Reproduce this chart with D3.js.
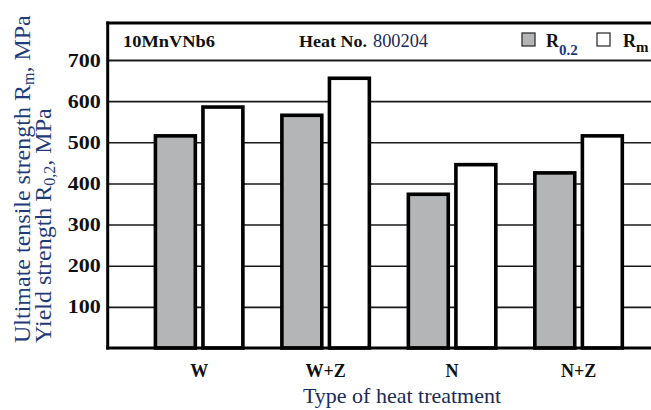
<!DOCTYPE html>
<html>
<head>
<meta charset="utf-8">
<script src="https://cdn.jsdelivr.net/npm/d3@7"></script>
<style>
  html, body { margin: 0; padding: 0; background: #fff; }
  svg { display: block; }
  text { font-family: "Liberation Serif", "Times New Roman", serif; }
</style>
</head>
<body>
<div id="chart"></div>
<script>
// ---- data ----
const categories = ["W", "W+Z", "N", "N+Z"];
const seriesKeys = ["r02", "rm"];
const r02Values = [520, 570, 378, 430];   // Yield strength R0.2, MPa
const rmValues  = [590, 660, 450, 520];   // Ultimate tensile strength Rm, MPa
const yTickValues = [100, 200, 300, 400, 500, 600, 700];
const yTickLabels = ["100", "200", "300", "400", "500", "600", "700"];

const W = 651, H = 410;
const plotLeft = 107.7, plotRight = 670, plotTop = 23, plotBottom = 348;

const svg = d3.select("#chart").append("svg")
  .attr("width", W).attr("height", H);

const y = d3.scaleLinear().domain([0, 700]).range([plotBottom, 60]);
const x = d3.scaleBand().domain(categories)
  .range([plotLeft, plotRight]).paddingInner(0.28).paddingOuter(0.363);
const xs = d3.scaleBand().domain(seriesKeys)
  .range([0, x.bandwidth()]).paddingInner(0.085);

const fills = { r02: "#b3b5b7", rm: "#ffffff" };

// gridlines + tick labels via axis
const yAxis = d3.axisLeft(y)
  .tickValues(yTickValues)
  .tickFormat((d, i) => yTickLabels[i])
  .tickSize(-(plotRight - plotLeft))
  .tickPadding(7);
const gy = svg.append("g").attr("transform", `translate(${plotLeft},0)`).call(yAxis);
gy.select(".domain").remove();
gy.selectAll(".tick line").attr("stroke", "#1a1a1a").attr("stroke-width", d => d === 700 ? 2.2 : 1.6);
gy.selectAll(".tick text")
  .attr("fill", "#111")
  .attr("font-size", 19)
  .attr("font-weight", "bold")
  .attr("font-family", "'Liberation Serif', 'Times New Roman', serif")
  .attr("textLength", 33)
  .attr("lengthAdjust", "spacingAndGlyphs");

// bars
const data = categories.map((c, i) => ({ cat: c, r02: r02Values[i], rm: rmValues[i] }));
const sw = 3.6;
const groups = svg.append("g").selectAll("g").data(data).join("g")
  .attr("transform", d => `translate(${x(d.cat)},0)`);
groups.selectAll("rect")
  .data(d => seriesKeys.map(k => ({ key: k, value: d[k] })))
  .join("rect")
  .attr("x", d => xs(d.key) + sw / 2)
  .attr("width", xs.bandwidth() - sw)
  .attr("y", d => y(d.value) + sw / 2)
  .attr("height", d => y(0) - y(d.value) - sw / 2)
  .attr("fill", d => fills[d.key])
  .attr("stroke", "#000")
  .attr("stroke-width", sw);

// frame: top, left axis, bottom axis
svg.append("line").attr("x1", plotLeft - 1.5).attr("x2", plotRight).attr("y1", plotTop).attr("y2", plotTop)
  .attr("stroke", "#000").attr("stroke-width", 3);
svg.append("line").attr("x1", plotLeft).attr("x2", plotLeft).attr("y1", plotTop - 1.5).attr("y2", plotBottom + 1.5)
  .attr("stroke", "#000").attr("stroke-width", 3);
const xAxis = d3.axisBottom(x).tickSize(0).tickPadding(0);
const gx = svg.append("g").attr("transform", `translate(0,${plotBottom})`).call(xAxis);
gx.select(".domain").attr("stroke", "#000").attr("stroke-width", 3)
  .attr("d", `M${plotLeft - 1.5},0H${plotRight}`);
gx.selectAll(".tick text")
  .attr("y", 29)
  .attr("dy", 0)
  .attr("fill", "#111")
  .attr("font-size", 18)
  .attr("font-weight", "bold")
  .attr("font-family", "'Liberation Serif', 'Times New Roman', serif");

// header texts
svg.append("text").attr("x", 123).attr("y", 47)
  .attr("font-size", 16.5).attr("font-weight", "bold").attr("fill", "#111")
  .attr("textLength", 92).attr("lengthAdjust", "spacingAndGlyphs")
  .text("10MnVNb6");
svg.append("text").attr("x", 299).attr("y", 47)
  .attr("font-size", 17).attr("font-weight", "bold").attr("fill", "#111")
  .attr("textLength", 68).attr("lengthAdjust", "spacingAndGlyphs")
  .text("Heat No.");
svg.append("text").attr("x", 373).attr("y", 47)
  .attr("font-size", 18).attr("fill", "#1a2a5a")
  .attr("textLength", 55).attr("lengthAdjust", "spacingAndGlyphs")
  .text("800204");

// legend
const legend = [
  { key: "r02", sq: 522, tx: 546, sub: "0.2", subDy: 8 },
  { key: "rm",  sq: 597, tx: 623, sub: "m",   subDy: 5 }
];
legend.forEach(l => {
  svg.append("rect").attr("x", l.sq).attr("y", 33).attr("width", 13).attr("height", 13)
    .attr("fill", fills[l.key]).attr("stroke", "#333").attr("stroke-width", 1.3);
  const t = svg.append("text").attr("x", l.tx).attr("y", 47)
    .attr("font-size", 18).attr("font-weight", "bold").attr("fill", "#111");
  t.append("tspan").text("R");
  t.append("tspan").attr("dy", l.subDy).attr("font-size", 15)
    .attr("fill", l.key === "r02" ? "#1a3a80" : "#111").text(l.sub);
});

// axis titles
const titleColor = "#1f3b78";
svg.append("text")
  .attr("x", 402).attr("y", 403)
  .attr("text-anchor", "middle")
  .attr("font-size", 22).attr("fill", "#1a2b58")
  .text("Type of heat treatment");

const yt1 = svg.append("text")
  .attr("transform", "translate(30,343) rotate(-90)")
  .attr("font-size", 24).attr("fill", titleColor);
yt1.append("tspan").text("Ultimate tensile strength R");
yt1.append("tspan").attr("font-size", 16).attr("dy", 4).text("m");
yt1.append("tspan").attr("dy", -4).text(", MPa");

const yt2 = svg.append("text")
  .attr("transform", "translate(51,343) rotate(-90)")
  .attr("font-size", 24).attr("fill", titleColor);
yt2.append("tspan").text("Yield strength R");
yt2.append("tspan").attr("font-size", 16).attr("dy", 4).text("0,2");
yt2.append("tspan").attr("dy", -4).text(", MPa");
</script>
</body>
</html>
